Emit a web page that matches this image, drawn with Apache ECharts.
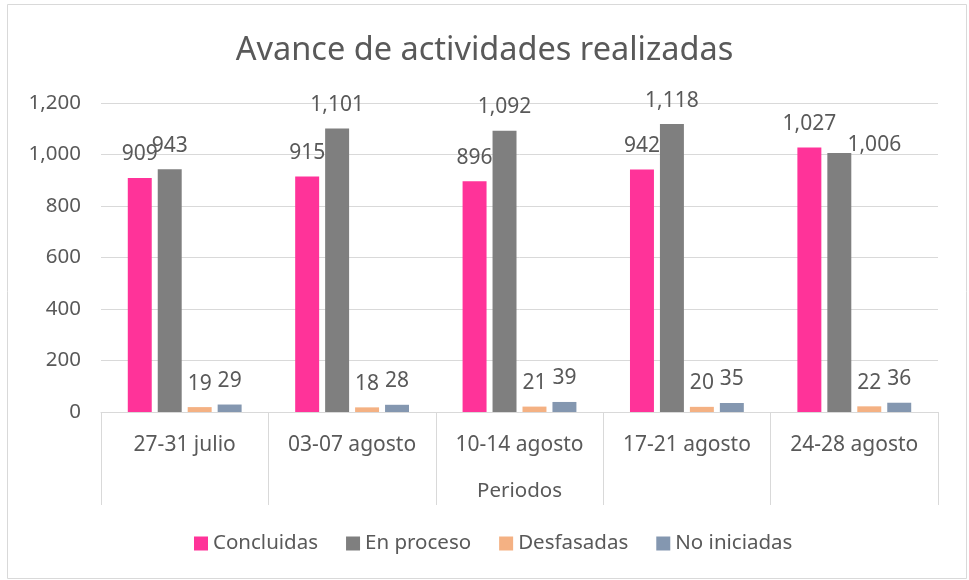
<!DOCTYPE html>
<html>
<head>
<meta charset="utf-8">
<script src="https://cdn.jsdelivr.net/npm/echarts@6/dist/echarts.min.js"></script>
<style>
  html, body { margin: 0; padding: 0; background: #fff; }
  #chart { width: 969px; height: 580px; }
</style>
</head>
<body>
<div id="chart"></div>
<script>
const periodos = ['27-31 julio', '03-07 agosto', '10-14 agosto', '17-21 agosto', '24-28 agosto']
const concluidas = [909, 915, 896, 942, 1027]
const enProceso = [943, 1101, 1092, 1118, 1006]
const desfasadas = [19, 18, 21, 20, 22]
const noIniciadas = [29, 28, 39, 35, 36]
const yTicks = [0, 200, 400, 600, 800, 1000, 1200]

const FONT = 'Noto Sans'
const TXT = '#595959'
const LINE = '#D9D9D9'

// Excel nudged this one label sideways so it doesn't collide with its neighbour
const labelNudge = { 'En proceso': { 4: [35, 16] } }

const chart = echarts.init(document.getElementById('chart'))

const fmt = v => Number(v).toLocaleString('en-US')

const makeSeries = (name, values, color) => ({
  name,
  type: 'bar',
  data: values.map((v, i) => {
    const off = labelNudge[name] && labelNudge[name][i]
    return off ? { value: v, label: { offset: off } } : v
  }),
  barGap: '25%',
  barCategoryGap: '32%',
  itemStyle: { color },
  label: {
    show: true,
    position: 'top',
    distance: 13,
    formatter: p => fmt(p.value),
    fontFamily: FONT,
    fontSize: 21,
    color: TXT
  }
})

const option = {
  backgroundColor: '#fff',
  animation: false,
  title: {
    text: 'Avance de actividades realizadas',
    left: 'center',
    top: 29,
    textStyle: { fontFamily: FONT, fontSize: 32.5, fontWeight: 'normal', color: TXT }
  },
  legend: {
    bottom: 21,
    left: 189,
    icon: 'rect',
    itemWidth: 14,
    itemHeight: 14,
    itemGap: 28,
    textStyle: { fontFamily: FONT, fontSize: 20.5, color: TXT }
  },
  grid: { left: 101, right: 31, top: 103, bottom: 168 },
  xAxis: {
    type: 'category',
    data: periodos,
    name: 'Periodos',
    nameLocation: 'middle',
    nameGap: 69,
    nameTextStyle: { fontFamily: FONT, fontSize: 20.5, color: TXT },
    axisLine: { lineStyle: { color: LINE, width: 1 } },
    axisTick: { show: true, length: 93, interval: 0, lineStyle: { color: LINE } },
    axisLabel: { fontFamily: FONT, fontSize: 21, color: TXT, margin: 23, interval: 0 }
  },
  yAxis: {
    type: 'value',
    min: yTicks[0],
    max: yTicks[yTicks.length - 1],
    interval: yTicks[1] - yTicks[0],
    axisLine: { show: false },
    axisTick: { show: false },
    splitLine: { lineStyle: { color: LINE, width: 1 } },
    axisLabel: { fontFamily: FONT, fontSize: 20.5, color: TXT, margin: 20, formatter: v => fmt(v) }
  },
  graphic: [{
    type: 'rect',
    shape: { x: 7.5, y: 4.5, width: 959, height: 574 },
    style: { fill: 'none', stroke: LINE, lineWidth: 1 },
    silent: true,
    z: -1
  }],
  series: [
    makeSeries('Concluidas', concluidas, '#FF3399'),
    makeSeries('En proceso', enProceso, '#7F7F7F'),
    makeSeries('Desfasadas', desfasadas, '#F4B183'),
    makeSeries('No iniciadas', noIniciadas, '#8497B0')
  ]
}

chart.setOption(option)
</script>
</body>
</html>
